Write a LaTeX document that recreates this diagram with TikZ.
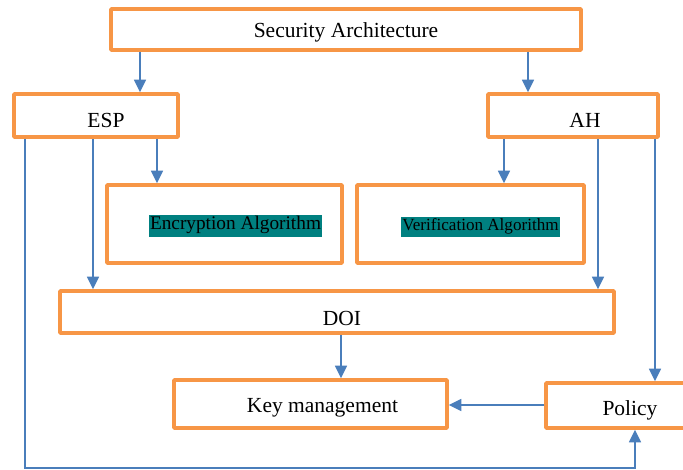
\documentclass[tikz,border=0pt]{standalone}
\usepackage{fontspec}
\setmainfont{Liberation Serif}
\usetikzlibrary{arrows.meta,positioning}
\definecolor{boxorange}{HTML}{F79646}
\definecolor{linkblue}{HTML}{4A7EBB}
\definecolor{markteal}{HTML}{008080}
\tikzset{
	box/.style={draw=boxorange, line width=3.6pt, fill=white, inner sep=0pt, rounded corners=0.6pt},
	link/.style={draw=linkblue, line width=1.6pt, -{Triangle[width=12pt,length=12.5pt]}},
	boxtext/.style args={#1/#2/#3}{label={[shift={(#1,#2)}]center:#3}},
}
\newcommand{\marked}[2]{{\fontsize{#1}{#1}\selectfont\setlength{\fboxsep}{1pt}\colorbox{markteal}{\strut #2}}}

\begin{document}
\begin{tikzpicture}[x=1pt, y=-1pt, font=\fontsize{21.5}{24}\selectfont]
		\useasboundingbox (0,0) rectangle (683,470);
		
		\node[box, minimum width=470, minimum height=41, boxtext=0/3/Security Architecture] (sec) at (346,29.5) {};
		\node[box, minimum width=164, minimum height=43, boxtext=10/5/ESP] (esp) at (96,115.5) {};
		\node[box, minimum width=170, minimum height=43, boxtext=12/5/AH] (ah) at (573,115.5) {};
		\node[box, minimum width=235, minimum height=78, boxtext=11/2/{\marked{19.3}{Encryption Algorithm}}] (enc) at (224.5,224) {};
		\node[box, minimum width=227, minimum height=78, boxtext=10/3/{\marked{17.1}{Verification Algorithm}}] (ver) at (470.5,224) {};
		\node[box, minimum width=554, minimum height=42, boxtext=5/6/DOI] (doi) at (337,312) {};
		\node[box, minimum width=273, minimum height=48, boxtext=12/4/Key management] (key) at (310.5,404) {};
		\node[box, minimum width=144, minimum height=45, boxtext=12/5/Policy] (pol) at (618,405.5) {};
		\coordinate (bend) at (25,468);
		
		\draw[link] (sec.south -| 140,0) -- (esp.north -| 140,0);
		\draw[link] (sec.south -| 528,0) -- (ah.north -| 528,0);
		\draw[link] (esp.south -| 157,0) -- (enc.north -| 157,0);
		\draw[link] (esp.south -| 93,0) -- (doi.north -| 93,0);
		\draw[link] (ah.south -| 504,0) -- (ver.north -| 504,0);
		\draw[link] (ah.south -| 598,0) -- (doi.north -| 598,0);
		\draw[link] (ah.south -| 655,0) -- (pol.north -| 655,0);
		\draw[link] (doi.south -| 341,0) -- (key.north -| 341,0);
		\draw[link] (pol.west |- 0,405) -- (key.east |- 0,405);
		\draw[link] (esp.south -| bend) -- (bend) -| (pol.south -| 635,0);
	\end{tikzpicture}
\end{document}
